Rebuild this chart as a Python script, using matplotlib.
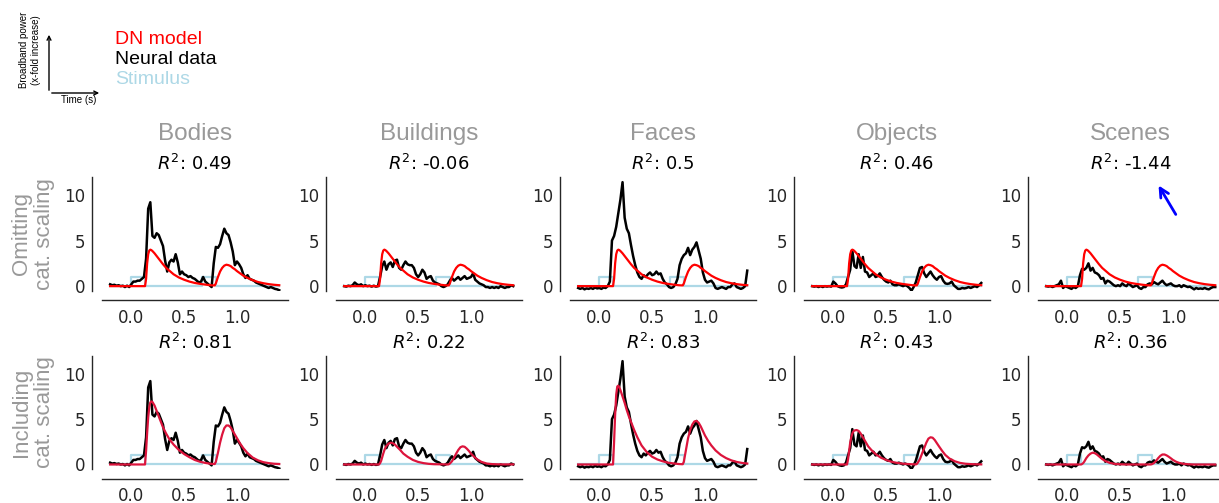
import numpy as np
import matplotlib
matplotlib.use("Agg")
import matplotlib.pyplot as plt

# ---------------- data ----------------
categories = ["Bodies", "Buildings", "Faces", "Objects", "Scenes"]
row_labels = ["Omitting\ncat. scaling", "Including\ncat. scaling"]
r2_omit = ["0.49", "-0.06", "0.5", "0.46", "-1.44"]
r2_incl = ["0.81", "0.22", "0.83", "0.43", "0.36"]

# neural data sampled every 0.02 s from -0.2 to 1.4 s
t_data = np.round(np.arange(-0.2, 1.4001, 0.02), 2)

neural_bodies = [0.2, 0.1, 0.15, 0.05, 0.1, 0.0, 0.05, -0.1, 0.05, -0.1,
                 0.2, 0.5, 0.5, 0.6, 0.6, 0.8, 1.0, 3.0, 8.5, 9.2,
                 5.5, 5.3, 5.8, 5.6, 5.0, 4.4, 2.8, 1.6, 2.6, 2.9,
                 2.7, 3.5, 2.6, 1.3, 1.6, 1.3, 1.2, 1.0, 1.1, 0.9,
                 0.8, 0.6, 0.4, 0.5, 1.0, 0.5, 0.3, 0.1, -0.1, 2.5,
                 4.3, 4.2, 4.6, 5.5, 6.3, 5.8, 5.6, 4.8, 3.8, 2.3,
                 2.7, 2.4, 2.0, 1.3, 0.9, 1.2, 0.8, 0.7, 0.6, 0.4,
                 0.3, 0.2, 0.1, 0.0, -0.1, -0.2, -0.1, -0.2, -0.3, -0.35,
                 -0.45]
neural_buildings = [0.0, -0.05, 0.05, 0.0, 0.1, 0.4, 0.2, 0.1, 0.2, 0.0,
                    0.1, 0.0, 0.05, -0.05, 0.05, -0.05, 0.0, 1.0, 2.2, 2.7,
                    1.8, 2.4, 2.6, 2.1, 2.8, 2.9, 2.0, 1.8, 2.3, 2.7,
                    2.4, 2.3, 2.3, 2.0, 1.3, 1.0, 1.3, 1.8, 1.5, 0.8,
                    1.0, 1.1, 0.6, 0.4, 0.3, 0.2, 0.0, -0.1, 0.0, 0.2,
                    0.6, 0.9, 0.6, 0.8, 1.0, 0.7, 0.9, 1.1, 0.8, 0.9,
                    1.0, 1.4, 0.7, 0.5, 0.3, 0.2, 0.1, -0.1, -0.1, -0.2,
                    -0.1, -0.2, -0.1, -0.2, 0.0, -0.1, -0.2, -0.1, -0.1, 0.1,
                    0.0]
neural_faces = [-0.2, -0.3, -0.2, -0.35, -0.25, -0.3, -0.2, -0.3, -0.15, -0.25,
                -0.2, -0.3, -0.15, -0.2, 0.0, 0.5, 5.0, 5.5, 6.5, 8.0,
                9.5, 11.4, 7.5, 6.3, 5.8, 4.5, 3.3, 2.3, 1.5, 1.0,
                0.8, 1.2, 1.0, 1.3, 1.5, 1.2, 1.3, 1.6, 1.3, 1.4,
                0.8, 0.4, 0.2, -0.1, -0.2, -0.1, 0.2, 0.8, 2.3, 3.0,
                3.4, 3.6, 4.2, 3.4, 4.0, 4.3, 4.8, 3.9, 3.0, 1.5,
                0.7, 0.4, 0.5, 0.6, 0.3, -0.2, -0.3, -0.2, -0.1, -0.2,
                -0.3, -0.1, -0.1, 0.2, 0.3, -0.1, -0.2, -0.3, -0.2, 0.0,
                1.7]
neural_objects = [0.0, -0.05, 0.0, -0.1, 0.0, -0.1, 0.0, -0.05, 0.0, -0.05,
                  0.5, 0.3, 0.0, -0.1, -0.15, -0.1, 0.2, 1.0, 1.8, 3.9,
                  2.2, 2.0, 3.5, 2.0, 3.2, 1.6, 1.5, 1.0, 1.2, 1.4,
                  1.0, 1.1, 1.4, 1.0, 0.7, 0.5, 0.4, 0.6, 0.2, 0.1,
                  0.1, 0.2, 0.1, 0.0, 0.1, 0.0, -0.2, -0.5, -0.1, 0.4,
                  1.2, 2.0, 2.1, 1.4, 1.0, 1.3, 1.6, 1.2, 0.9, 0.7,
                  1.0, 1.1, 0.6, 0.3, 0.25, 0.3, 0.5, 0.1, -0.1, -0.3,
                  -0.3, -0.2, -0.25, -0.2, -0.1, -0.2, -0.1, 0.0, -0.1, 0.1,
                  0.35]
neural_scenes = [0.0, -0.05, 0.0, -0.1, 0.0, 0.1, 0.2, 0.6, -0.2, 0.0,
                 -0.1, -0.2, -0.3, -0.1, -0.2, 0.0, 1.2, 1.9, 1.8, 2.0,
                 2.5, 1.7, 2.0, 1.5, 1.4, 1.2, 0.8, 0.9, 0.3, 0.6,
                 0.5, 0.3, 0.1, 0.0, 0.1, 0.0, 0.3, 0.1, 0.0, 0.3,
                 0.1, -0.1, 0.0, 0.1, -0.2, -0.3, -0.1, -0.1, 0.2, 0.3,
                 0.2, 0.45, 0.3, 0.2, 0.4, 0.6, 0.3, 0.1, 0.2, 0.3,
                 0.1, 0.0, 0.0, 0.1, -0.1, 0.1, 0.0, -0.1, -0.05, -0.2,
                 -0.35, -0.2, -0.3, -0.25, -0.3, -0.2, -0.3, -0.35, -0.2, -0.1,
                 -0.1]

# model predictions (time points in s)
t_model = [-0.2, -0.1, 0.0, 0.1, 0.13, 0.14, 0.15, 0.16, 0.17, 0.18,
           0.19, 0.2, 0.22, 0.24, 0.26, 0.28, 0.3, 0.33, 0.36, 0.4,
           0.45, 0.5, 0.55, 0.6, 0.65, 0.7, 0.75, 0.78, 0.79, 0.8,
           0.82, 0.84, 0.86, 0.88, 0.9, 0.92, 0.94, 0.96, 0.98, 1.0,
           1.03, 1.06, 1.1, 1.15, 1.2, 1.25, 1.3, 1.35, 1.4]

model_omit = [0, 0, 0, 0, 0, 0.8, 2.5, 3.5, 3.9, 4.0,
              3.95, 3.85, 3.6, 3.3, 3.0, 2.7, 2.4, 2.0, 1.7, 1.3,
              0.95, 0.7, 0.5, 0.35, 0.25, 0.17, 0.1, 0.08, 0.08, 0.3,
              1.0, 1.6, 2.0, 2.25, 2.35, 2.3, 2.2, 2.0, 1.85, 1.65,
              1.4, 1.15, 0.9, 0.65, 0.45, 0.32, 0.22, 0.15, 0.1]

model_incl_bodies = [0, 0, 0, 0, 0, 1.5, 3.5, 5.2, 6.3, 6.85,
                     6.95, 6.9, 6.5, 5.9, 5.3, 4.7, 4.1, 3.4, 2.8, 2.2,
                     1.6, 1.15, 0.8, 0.5, 0.3, 0.17, 0.08, 0.05, 0.05, 0.3,
                     1.3, 2.4, 3.3, 4.0, 4.3, 4.3, 4.1, 3.7, 3.3, 2.9,
                     2.3, 1.8, 1.25, 0.75, 0.45, 0.25, 0.15, 0.08, 0.05]
model_incl_buildings = [0, 0, 0, 0, 0, 0.15, 0.4, 0.8, 1.2, 1.55,
                        1.85, 2.05, 2.3, 2.4, 2.35, 2.2, 1.95, 1.6, 1.2, 0.85,
                        0.5, 0.28, 0.15, 0.07, 0.03, 0.02, 0.01, 0.0, 0.02, 0.1,
                        0.35, 0.75, 1.2, 1.6, 1.9, 2.0, 1.95, 1.75, 1.5, 1.2,
                        0.85, 0.55, 0.28, 0.1, 0.04, 0.02, 0.01, 0.01, 0.01]
model_incl_faces = [0, 0, 0, 0, 0, 2.5, 5.5, 7.7, 8.6, 8.7,
                    8.5, 8.2, 7.5, 6.8, 6.0, 5.3, 4.7, 3.8, 3.0, 2.1,
                    1.35, 0.85, 0.55, 0.35, 0.2, 0.12, 0.05, 0.03, 0.03, 0.3,
                    1.6, 2.9, 3.8, 4.4, 4.75, 4.8, 4.6, 4.2, 3.7, 3.2,
                    2.6, 2.1, 1.55, 1.05, 0.7, 0.45, 0.28, 0.17, 0.1]
model_incl_objects = [0, 0, 0, 0, 0, 0.6, 1.5, 2.4, 3.0, 3.4,
                      3.65, 3.75, 3.8, 3.7, 3.4, 3.0, 2.6, 2.0, 1.6, 1.15,
                      0.75, 0.5, 0.3, 0.18, 0.1, 0.05, 0.02, 0.01, 0.05, 0.2,
                      0.6, 1.2, 1.8, 2.4, 2.85, 3.0, 2.95, 2.7, 2.35, 2.0,
                      1.5, 1.05, 0.65, 0.35, 0.17, 0.08, 0.04, 0.02, 0.01]
model_incl_scenes = [0, 0, 0, 0, 0, 0.05, 0.15, 0.3, 0.5, 0.7,
                     0.85, 1.0, 1.2, 1.3, 1.25, 1.1, 0.9, 0.6, 0.38, 0.18,
                     0.06, 0.02, 0, 0, 0, 0, 0, 0, 0, 0.03,
                     0.15, 0.4, 0.7, 0.95, 1.1, 1.1, 1.0, 0.85, 0.68, 0.5,
                     0.3, 0.17, 0.07, 0.02, 0, 0, 0, 0, 0]

# stimulus time course (step, 'post')
stim_t = [-0.2, 0.0, 0.133, 0.667, 0.8, 1.4]
stim_level = [0, 1, 0, 1, 0, 0]

neural = [neural_bodies, neural_buildings, neural_faces, neural_objects, neural_scenes]
models_incl = [model_incl_bodies, model_incl_buildings, model_incl_faces,
               model_incl_objects, model_incl_scenes]

# ---------------- style ----------------
ARIAL = "Liberation Sans"
GREY = "#999999"
STIM_C = "#add8e6"
plt.rcParams["font.family"] = ["DejaVu Sans"]

W, H = 1219, 503
fig = plt.figure(figsize=(W / 100, H / 100), dpi=100)

ax_left0 = 101.7
ax_step = 234.0
ax_w = 186.0
rows_px = [(176.7, 290.7), (355.7, 469.0)]

for r in range(2):
    top, bot = rows_px[r]
    for c in range(5):
        left = ax_left0 + ax_step * c
        ax = fig.add_axes([left / W, 1 - bot / H, ax_w / W, (bot - top) / H])
        ax.step(stim_t, stim_level, where="post", color=STIM_C, lw=1.6, zorder=1)
        ax.plot(t_data, neural[c], color="black", lw=1.8, zorder=2)
        if r == 0:
            ax.plot(t_model, model_omit, color="red", lw=1.6, zorder=3)
            r2 = r2_omit[c]
        else:
            ax.plot(t_model, models_incl[c], color="crimson", lw=1.6, zorder=3)
            r2 = r2_incl[c]
        ax.set_ylim(-0.5, 12)
        ax.set_yticks([0, 5, 10])
        ax.set_xticks([0.0, 0.5, 1.0])
        ax.set_xticklabels(["0.0", "0.5", "1.0"])
        for s in ["top", "right"]:
            ax.spines[s].set_visible(False)
        ax.spines["left"].set_position(("outward", 7))
        ax.spines["bottom"].set_position(("outward", 7))
        for s in ["left", "bottom"]:
            ax.spines[s].set_linewidth(1.0)
            ax.spines[s].set_color("#262626")
        ax.tick_params(axis="both", length=0, labelsize=12, colors="#262626")
        ax.tick_params(axis="y", pad=5)
        ax.tick_params(axis="x", pad=6)
        ax.patch.set_visible(False)
        ax.set_title(r"$R^2$: " + r2, fontsize=13, pad=5)
        if r == 0:
            ax.text(0.5, 1.375, categories[c], transform=ax.transAxes,
                    ha="center", va="center", fontsize=17.5, color=GREY,
                    family=ARIAL)
            if c == 4:
                ax.annotate("", xy=(0.85, 11.3), xytext=(1.04, 7.6),
                            arrowprops=dict(arrowstyle="->", color="blue",
                                            lw=2, mutation_scale=16))
    fig.text(33 / W, 1 - ((top + bot) / 2) / H, row_labels[r], rotation=90,
             ha="center", va="center", fontsize=16, color=GREY, family=ARIAL,
             linespacing=1.1)

# legend / axis key at top-left
fig.add_artist(matplotlib.patches.FancyArrowPatch(
    (49 / W, 1 - 93 / H), (49 / W, 1 - 32 / H), transform=fig.transFigure,
    arrowstyle="->", mutation_scale=7, lw=1, color="black"))
fig.add_artist(matplotlib.patches.FancyArrowPatch(
    (49 / W, 1 - 93 / H), (102 / W, 1 - 93 / H), transform=fig.transFigure,
    arrowstyle="->", mutation_scale=7, lw=1, color="black"))
fig.text(30 / W, 1 - 50 / H, "Broadband power\n(x-fold increase)", rotation=90,
         ha="center", va="center", fontsize=7, family=ARIAL, linespacing=1.2)
fig.text(79 / W, 1 - 100 / H, "Time (s)", ha="center", va="center",
         fontsize=7, family=ARIAL)
for txt, col, yc in [("DN model", "red", 40), ("Neural data", "black", 60),
                     ("Stimulus", STIM_C, 79)]:
    fig.text(115 / W, 1 - yc / H, txt, ha="left", va="center", fontsize=14,
             color=col, family=ARIAL)

fig.savefig("out.png", dpi=100)
